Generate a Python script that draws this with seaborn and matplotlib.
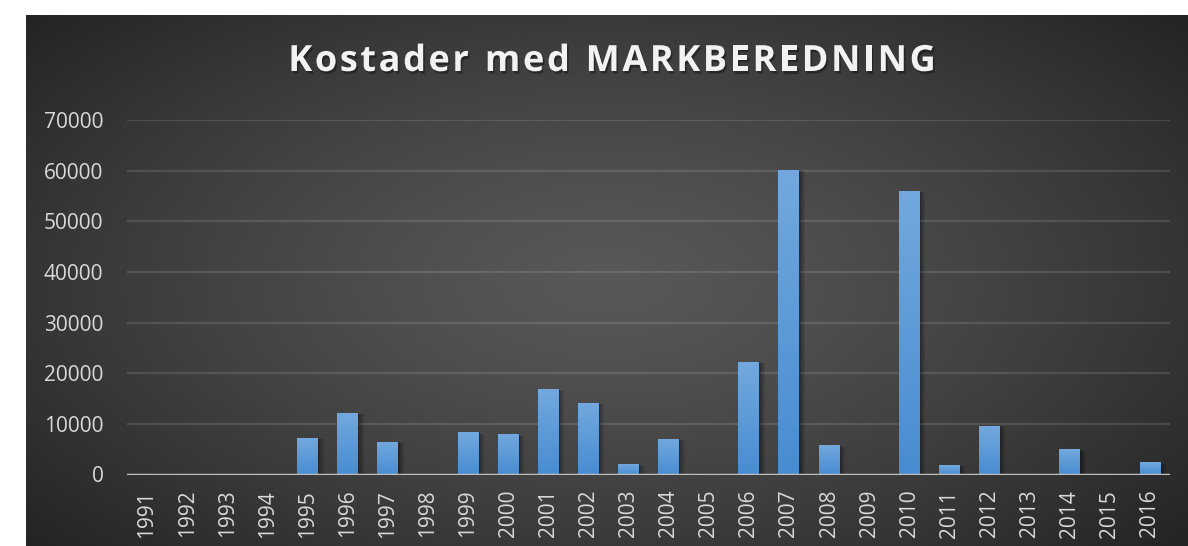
import numpy as np
import pandas as pd
import matplotlib
matplotlib.use("Agg")
import matplotlib.pyplot as plt
import matplotlib.patheffects as pe
import seaborn as sns

# Cost data per year
years = [str(y) for y in range(1991, 2017)]
costs = [0, 0, 0, 0, 7200, 12200, 6400, 0, 8300, 7900, 16800, 14100, 2000,
         7100, 0, 22200, 60200, 5800, 0, 56000, 1900, 9600, 0, 5000, 0, 2400]
y_ticks = [0, 10000, 20000, 30000, 40000, 50000, 60000, 70000]
title = "Kostader med MARKBEREDNING"

W, H = 1188, 546
sns.set_theme(style="white")
plt.rcParams["font.family"] = ["Open Sans", "DejaVu Sans"]

fig = plt.figure(figsize=(W / 100, H / 100), dpi=100)
fig.patch.set_facecolor("white")

# Dark panel with radial gradient
bg = fig.add_axes([26 / W, 0, 1 - 26 / W, 1 - 15 / H], zorder=-5)
gx, gy = np.meshgrid(np.linspace(-1, 1, 600), np.linspace(-1, 1, 300))
r = np.sqrt((gx * 0.95) ** 2 + (gy * 0.85) ** 2)
r = np.clip(r / 1.25, 0, 1)
shade = 0.345 - (0.345 - 0.145) * r ** 1.3
img = np.dstack([shade, shade, shade])
bg.imshow(img, extent=[0, 1, 0, 1], aspect="auto", interpolation="bicubic")
bg.set_axis_off()

ax = fig.add_axes([127 / W, 1 - 474.5 / H, 1043 / W, 354.5 / H])
ax.set_facecolor("none")

df = pd.DataFrame({"year": years, "cost": costs})
sns.barplot(data=df, x="year", y="cost", ax=ax, color="#5b9bd5", width=0.52,
            saturation=1, zorder=3, edgecolor="none", linewidth=0)

# Vertical gradient fill and soft shadow for each bar
grad = np.linspace(0, 1, 100).reshape(-1, 1)
top_c = np.array([0.45, 0.66, 0.87])
bot_c = np.array([0.28, 0.55, 0.82])
shadow_fx = [pe.SimplePatchShadow(offset=(4, -1), alpha=0.12, shadow_rgbFace="black"),
             pe.SimplePatchShadow(offset=(2.5, -1), alpha=0.15, shadow_rgbFace="black"),
             pe.SimplePatchShadow(offset=(1, 0), alpha=0.2, shadow_rgbFace="black"),
             pe.Normal()]
for p in ax.patches:
    h = p.get_height()
    if h <= 0:
        p.set_visible(False)
        continue
    x0, w = p.get_x(), p.get_width()
    p.set_path_effects(shadow_fx)
    cols = top_c[None, None, :] * (1 - grad[:, :, None]) + bot_c[None, None, :] * grad[:, :, None]
    ax.imshow(cols, extent=[x0, x0 + w, 0, h], aspect="auto", zorder=4,
              interpolation="bilinear")

ax.set_xlim(-0.5, len(years) - 0.5)
ax.set_ylim(0, 70000)
ax.set_yticks(y_ticks)
ax.set_yticklabels([str(v) for v in y_ticks])
ax.yaxis.grid(True, color="#ffffff", alpha=0.12, linewidth=1.6, zorder=1)
ax.axhline(0, color="#bdbdbd", linewidth=2.5, zorder=5)
for s in ax.spines.values():
    s.set_visible(False)
ax.set_xlabel("")
ax.set_ylabel("")
ax.tick_params(axis="y", length=0, pad=17, labelsize=15, labelcolor="#d9d9d9")
ax.tick_params(axis="x", length=0, pad=11, labelsize=15, labelcolor="#d9d9d9",
               labelrotation=90)

# Title with tracking and drop shadow
fig.canvas.draw()
renderer = fig.canvas.get_renderer()
tstyle = dict(fontsize=26, fontweight="bold", color="#f2f2f2",
              family=["Open Sans", "DejaVu Sans"], va="center", ha="left")
tracking = 2.6
widths = []
for ch in title:
    t = fig.text(0, 0, ch if ch != " " else "n", **tstyle)
    wpx = t.get_window_extent(renderer).width
    if ch == " ":
        wpx *= 0.45
    widths.append(wpx)
    t.remove()
total = sum(widths) + tracking * (len(title) - 1)
cx, cy = 612, 62
xpos = cx - total / 2
shadow = [pe.withSimplePatchShadow(offset=(1.2, -1.8), shadow_rgbFace="black",
                                   alpha=0.35)]
for ch, wpx in zip(title, widths):
    if ch != " ":
        fig.text(xpos / W, 1 - cy / H, ch, path_effects=shadow, **tstyle)
    xpos += wpx + tracking

fig.savefig("out.png", dpi=100, facecolor="white")
